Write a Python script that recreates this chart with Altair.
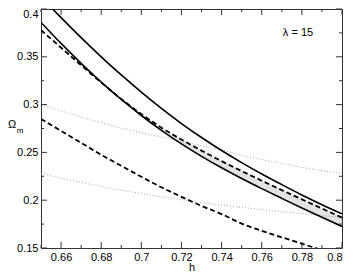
import altair as alt
import pandas as pd

h = [0.65, 0.66, 0.67, 0.68, 0.69, 0.70, 0.71, 0.72, 0.73, 0.74, 0.75, 0.76, 0.77, 0.78, 0.79, 0.80]

upper_solid = [0.4125, 0.391, 0.370, 0.350, 0.331, 0.313, 0.296, 0.2802, 0.2656, 0.252, 0.2393, 0.2274, 0.2163, 0.2055, 0.1953, 0.1857]
lower_solid = [0.386, 0.364, 0.3432, 0.3236, 0.3054, 0.2886, 0.2731, 0.2589, 0.2459, 0.2339, 0.2227, 0.2121, 0.2019, 0.1919, 0.1821, 0.1725]
mid_dashed = [0.378, 0.3595, 0.3412, 0.3231, 0.3059, 0.2901, 0.2759, 0.2634, 0.2519, 0.2409, 0.2305, 0.2204, 0.2106, 0.2009, 0.1913, 0.1818]
low_dashed = [0.285, 0.2725, 0.260, 0.2475, 0.236, 0.2245, 0.2135, 0.2035, 0.194, 0.1855, 0.1755, 0.168, 0.1612, 0.1545, 0.1478, 0.141]
up_dotted = [0.3005, 0.2935, 0.287, 0.281, 0.2755, 0.2705, 0.266, 0.2615, 0.257, 0.2525, 0.247, 0.2425, 0.2385, 0.2345, 0.231, 0.228]
low_dotted = [0.228, 0.2232, 0.2187, 0.2145, 0.2105, 0.207, 0.2035, 0.2005, 0.1975, 0.1948, 0.1925, 0.1902, 0.188, 0.186, 0.184, 0.182]

x_labels = [0.66, 0.68, 0.70, 0.72, 0.74, 0.76, 0.78, 0.80]
y_labels = [0.15, 0.20, 0.25, 0.30, 0.35, 0.40]
x_minor = [0.65, 0.67, 0.69, 0.71, 0.73, 0.75, 0.77, 0.79]
y_minor = [0.175, 0.225, 0.275, 0.325, 0.375]

W, H = 301, 239
FONT = "Liberation Sans"
TICK = "#333333"

rows = []
for name, vals in [("us", upper_solid), ("ls", lower_solid), ("md", mid_dashed),
                   ("ld", low_dashed), ("ud", up_dotted), ("lt", low_dotted)]:
    for hh, v in zip(h, vals):
        rows.append({"h": hh, "v": v, "s": name})
df = pd.DataFrame(rows)

band = pd.DataFrame({"h": h, "lo": lower_solid, "hi": mid_dashed})
band = band[band["h"] >= 0.69]

xs = alt.Scale(domain=[0.65, 0.80], nice=False, zero=False)
ys = alt.Scale(domain=[0.15, 0.40], nice=False, zero=False)

x_axis = alt.Axis(values=x_labels, format=".2~f", ticks=False, domain=False, grid=False,
                  labelFont=FONT, labelFontSize=11, labelColor="black", labelPadding=3,
                  title=None)
y_axis = alt.Axis(values=y_labels, format=".2~f", ticks=False, domain=False, grid=False,
                  labelFont=FONT, labelFontSize=11, labelColor="black", labelPadding=3,
                  labelBaseline={"condition": {"test": "datum.value > 0.39", "value": "top"},
                                 "value": "middle"},
                  labelOffset={"condition": {"test": "datum.value > 0.39", "value": -1},
                               "value": 0},
                  title=None)

area = alt.Chart(band).mark_area(color="#e3e3e3", opacity=1).encode(
    x=alt.X("h:Q", scale=xs, axis=x_axis),
    y=alt.Y("lo:Q", scale=ys, axis=y_axis),
    y2="hi:Q",
)

def lines(names, **kw):
    return alt.Chart(df).transform_filter(
        alt.FieldOneOfPredicate(field="s", oneOf=names)
    ).mark_line(clip=True, **kw).encode(
        x=alt.X("h:Q", scale=xs),
        y=alt.Y("v:Q", scale=ys),
        detail="s:N",
    )

dotted = lines(["ud", "lt"], color="#a8a8a8", strokeWidth=1, strokeDash=[1, 2], interpolate="monotone")
solid = lines(["us", "ls"], color="black", strokeWidth=1.6, interpolate="monotone")
dashed = lines(["md", "ld"], color="black", strokeWidth=1.8, strokeDash=[5, 3], interpolate="monotone")

def xticks(vals, size, top):
    d = pd.DataFrame({"t": vals})
    y0, y1 = (0, size) if top else (H, H - size)
    return alt.Chart(d).mark_rule(color=TICK, strokeWidth=1).encode(
        x=alt.X("t:Q", scale=xs), y=alt.value(y0), y2=alt.value(y1))

def yticks(vals, size, right):
    d = pd.DataFrame({"t": vals})
    x0, x1 = (W, W - size) if right else (0, size)
    return alt.Chart(d).mark_rule(color=TICK, strokeWidth=1).encode(
        y=alt.Y("t:Q", scale=ys), x=alt.value(x0), x2=alt.value(x1))

ticks = [
    xticks(x_labels, 6, False), xticks(x_minor, 3, False),
    xticks(x_labels, 6, True), xticks(x_minor, 3, True),
    yticks(y_labels, 6, False), yticks(y_minor, 3, False),
    yticks(y_labels, 6, True), yticks(y_minor, 3, True),
]

one = pd.DataFrame({"t": ["x"]})
lam = alt.Chart(one).mark_text(font=FONT, fontSize=11, color="black").encode(
    x=alt.value(257), y=alt.value(24), text=alt.value("λ = 15"))
omega = alt.Chart(one).mark_text(font=FONT, fontSize=11, color="black").encode(
    x=alt.value(-29), y=alt.value(116), text=alt.value("Ω"))
sub_m = alt.Chart(one).mark_text(font=FONT, fontSize=8, color="black").encode(
    x=alt.value(-21), y=alt.value(122), text=alt.value("m"))
hlab = alt.Chart(one).mark_text(font=FONT, fontSize=11, color="black").encode(
    x=alt.value(151), y=alt.value(259), text=alt.value("h"))

chart = alt.layer(area, dotted, dashed, solid, *ticks, lam, omega, sub_m, hlab).properties(
    width=W, height=H,
    autosize=alt.AutoSizeParams(type="none"),
    padding={"left": 33, "top": 1, "right": 3, "bottom": 25},
).configure_view(stroke="#333", strokeWidth=1)

chart.save("out.html", embed_options={"renderer": "svg", "actions": False})
